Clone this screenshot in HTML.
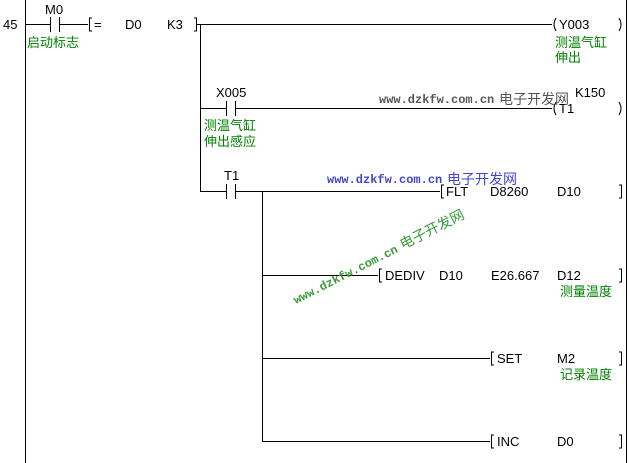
<!DOCTYPE html>
<html><head><meta charset="utf-8"><style>
html,body{margin:0;padding:0;background:#fff;}
svg{display:block;}
.t{font-family:"Liberation Sans","Noto Sans CJK SC",sans-serif;font-size:13px;fill:#000;}
.g{font-family:"Liberation Sans","Noto Sans CJK SC",sans-serif;font-size:13px;fill:#008000;}
.w{font-family:"Liberation Mono",monospace;font-size:12px;font-weight:bold;}
.c{font-family:"Noto Sans CJK SC",sans-serif;font-size:14px;}
</style></head><body>
<svg width="630" height="463" viewBox="0 0 630 463" xmlns="http://www.w3.org/2000/svg">
<g stroke="#000" stroke-width="1" fill="none" shape-rendering="crispEdges">
<line x1="25.5" y1="0" x2="25.5" y2="463"/>
<line x1="626.5" y1="0" x2="626.5" y2="463"/>
<line x1="25" y1="24.5" x2="50" y2="24.5"/>
<line x1="50.5" y1="17" x2="50.5" y2="32"/>
<line x1="59.5" y1="17" x2="59.5" y2="32"/>
<line x1="59" y1="24.5" x2="88" y2="24.5"/>
<polyline points="92,18 89.5,18 89.5,31 92,31"/>
<polyline points="194,18 196.5,18 196.5,31 194,31"/>
<line x1="197" y1="24.5" x2="552" y2="24.5"/>
<line x1="200.5" y1="24" x2="200.5" y2="192"/>
<line x1="200" y1="108.5" x2="226" y2="108.5"/>
<line x1="226.5" y1="101" x2="226.5" y2="116"/>
<line x1="235.5" y1="101" x2="235.5" y2="116"/>
<line x1="235" y1="108.5" x2="552" y2="108.5"/>
<line x1="200" y1="191.5" x2="226" y2="191.5"/>
<line x1="226.5" y1="184" x2="226.5" y2="199"/>
<line x1="235.5" y1="184" x2="235.5" y2="199"/>
<line x1="235" y1="191.5" x2="440" y2="191.5"/>
<line x1="262.5" y1="191" x2="262.5" y2="442"/>
<line x1="262" y1="275.5" x2="378" y2="275.5"/>
<line x1="262" y1="358.5" x2="490" y2="358.5"/>
<line x1="262" y1="441.5" x2="490" y2="441.5"/>
<polyline points="444,185 441.5,185 441.5,198 444,198"/>
<polyline points="619,185 621.5,185 621.5,198 619,198"/>
<polyline points="382,269 379.5,269 379.5,282 382,282"/>
<polyline points="619,269 621.5,269 621.5,282 619,282"/>
<polyline points="494,352 491.5,352 491.5,365 494,365"/>
<polyline points="619,352 621.5,352 621.5,365 619,365"/>
<polyline points="494,435 491.5,435 491.5,448 494,448"/>
<polyline points="619,435 621.5,435 621.5,448 619,448"/>
</g>
<path d="M556,18 Q552,24.5 556,31" stroke="#000" fill="none"/>
<path d="M619,18 Q623,24.5 619,31" stroke="#000" fill="none"/>
<path d="M556,102 Q552,108.5 556,115" stroke="#000" fill="none"/>
<path d="M619,102 Q623,108.5 619,115" stroke="#000" fill="none"/>

<text class="t" x="3" y="29">45</text>
<text class="t" x="45" y="14">M0</text>
<text class="g" x="27" y="47">启动标志</text>
<text class="t" x="94" y="29">=</text>
<text class="t" x="125" y="29">D0</text>
<text class="t" x="167" y="29">K3</text>
<text class="t" x="559" y="29">Y003</text>
<text class="g" x="555" y="47">测温气缸</text>
<text class="g" x="555" y="62">伸出</text>
<text class="t" x="216" y="97">X005</text>
<text class="g" x="204" y="130">测温气缸</text>
<text class="g" x="204" y="146">伸出感应</text>
<text class="t" x="575" y="97">K150</text>
<text class="t" x="559" y="113">T1</text>
<text class="t" x="224" y="180">T1</text>
<text class="t" x="446" y="196">FLT</text>
<text class="t" x="490" y="196">D8260</text>
<text class="t" x="557" y="196">D10</text>
<text class="t" x="385" y="280">DEDIV</text>
<text class="t" x="439" y="280">D10</text>
<text class="t" x="491" y="280">E26.667</text>
<text class="t" x="557" y="280">D12</text>
<text class="g" x="560" y="296">测量温度</text>
<text class="t" x="497" y="363">SET</text>
<text class="t" x="557" y="363">M2</text>
<text class="g" x="560" y="379">记录温度</text>
<text class="t" x="497" y="446">INC</text>
<text class="t" x="557" y="446">D0</text>

<text class="w" x="379" y="103" fill="#555">www.dzkfw.com.cn</text>
<text class="c" x="499" y="104" fill="#555">电子开发网</text>
<text class="w" x="327" y="183" fill="#4444cc">www.dzkfw.com.cn</text>
<text class="c" x="447" y="184" fill="#4444cc">电子开发网</text>
<g transform="translate(296,304) rotate(-27)">
<text class="w" x="0" y="0" fill="#3a9a3a">www.dzkfw.com.cn</text>
<text class="c" x="120" y="0" fill="#3a9a3a">电子开发网</text>
</g>
</svg>
</body></html>
